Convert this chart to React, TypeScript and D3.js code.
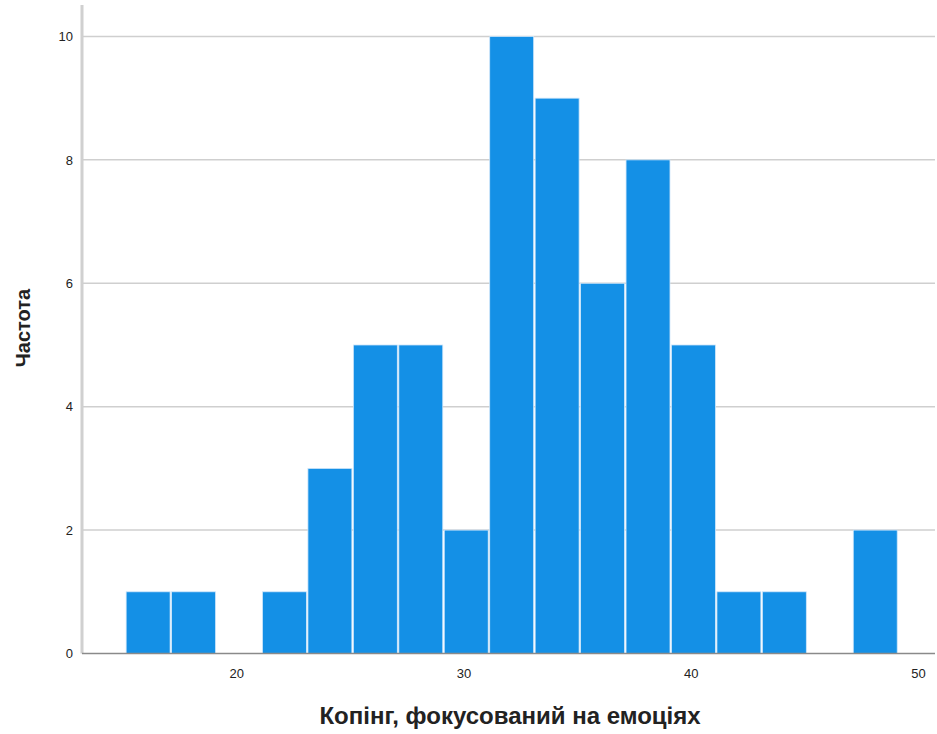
import React from "react";
import * as d3 from "d3";

const binStart = 15.1;
const binWidth = 2;
const counts = [1, 1, 0, 1, 3, 5, 5, 2, 10, 9, 6, 8, 5, 1, 1, 0, 2];
const xTicks = [20, 30, 40, 50];
const yTicks = [0, 2, 4, 6, 8, 10];
const xLabel = "Копінг, фокусований на емоціях";
const yLabel = "Частота";

const W = 937;
const H = 734;
const left = 82;
const right = 935;
const top = 5;
const bottom = 653.5;

export default function App() {
  const x = d3.scaleLinear().domain([13.19, 50.73]).range([left, right]);
  const y = d3.scaleLinear().domain([0, 10.51]).range([bottom, top]);
  const bins = counts.map((c, i) => ({ x0: binStart + i * binWidth, x1: binStart + (i + 1) * binWidth, c }));
  const font = "'Liberation Sans', Arial, sans-serif";
  return (
    <svg width={W} height={H} style={{ position: "absolute", left: 0, top: 0, background: "#fff" }}>
      {yTicks.filter((t) => t > 0).map((t) => (
        <line key={t} x1={left} x2={right} y1={y(t)} y2={y(t)} stroke="#cfcfcf" strokeWidth={1.5} />
      ))}
      {bins.filter((b) => b.c > 0).map((b, i) => (
        <rect
          key={i}
          x={x(b.x0) + 0.75}
          y={y(b.c)}
          width={x(b.x1) - x(b.x0) - 1.5}
          height={y(0) - y(b.c)}
          fill="#1490e6"
          stroke="#cfe6fa"
          strokeWidth={0.8}
        />
      ))}
      <line x1={left} x2={left} y1={top} y2={bottom} stroke="#d0d0d0" strokeWidth={3} />
      <line x1={left} x2={right} y1={bottom} y2={bottom} stroke="#8a8a8a" strokeWidth={1.5} />
      {yTicks.map((t) => (
        <text key={t} x={73} y={y(t)} dy="0.36em" textAnchor="end" fontFamily={font} fontSize={13} fill="#222">
          {t}
        </text>
      ))}
      {xTicks.map((t) => (
        <text key={t} x={x(t)} y={678} textAnchor="middle" fontFamily={font} fontSize={13} fill="#222">
          {t}
        </text>
      ))}
      <text x={510} y={724} textAnchor="middle" fontFamily={font} fontSize={24} fontWeight="bold" fill="#222">
        {xLabel}
      </text>
      <text
        transform={`translate(30, ${328}) rotate(-90)`}
        textAnchor="middle"
        fontFamily={font}
        fontSize={20}
        fontWeight="bold"
        fill="#222"
      >
        {yLabel}
      </text>
    </svg>
  );
}
